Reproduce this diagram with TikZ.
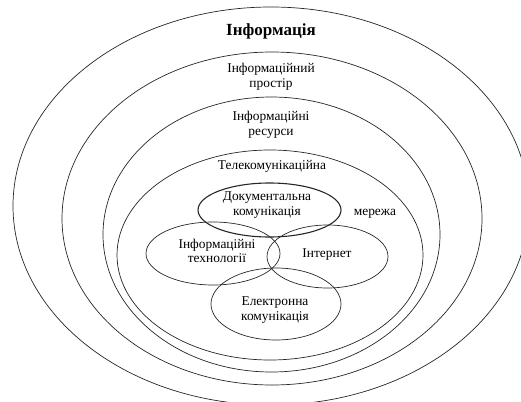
\documentclass[tikz,border=0pt]{standalone}
\usepackage{fontspec}
\setmainfont{Liberation Serif}
\tikzset{
  shell/.style={draw=black!85,line width=0.7pt},
  lbl/.style={align=center,inner sep=0pt,font=\fontsize{13.4}{14.5}\selectfont}
}
\begin{document}
\begin{tikzpicture}[x=1pt,y=-1pt]
        \useasboundingbox (0,0) rectangle (521,401);
        %%%%%%%%%% Livelli %%%%%%%%%%
        \draw[shell] (271,206) ellipse (258 and 199);
        \draw[shell] (272,218.5) ellipse (210 and 166.5);
        \draw[shell] (271.5,234.5) ellipse (168.5 and 137.5);
        \draw[shell] (270,255) ellipse (153 and 105);

        %%%%%%%%%% Cerchi interni %%%%%%%%%%
        \draw[shell] (213,253.5) ellipse (67 and 31.5);
        \draw[shell] (327.5,256.5) ellipse (60.5 and 31.5);
        \draw[shell] (276,304) ellipse (65 and 36);
        \draw[shell,line width=1.1pt] (269.5,210) ellipse (71.5 and 27);

        %%%%%%%%%% Testi %%%%%%%%%%
        \node[lbl,font=\fontsize{17}{18}\selectfont\bfseries] (info) at (271,31) {Інформація};
        \node[lbl] (prostir) at (271,77) {Інформаційний\\простір};
        \node[lbl] (resursy) at (271,125) {Інформаційні\\ресурси};
        \node[lbl] (telekom) at (272,166) {Телекомунікаційна};
        \node[lbl] (merezha) at (375,214) {мережа};
        \node[lbl] (dokum) at (267,205) {Документальна\\комунікація};
        \node[lbl] (tekhn) at (217,251) {Інформаційні\\технології};
        \node[lbl] (internet) at (327,255) {Інтернет};
        \node[lbl] (elektr) at (275,310) {Електронна\\комунікація};
    \end{tikzpicture}
\end{document}
